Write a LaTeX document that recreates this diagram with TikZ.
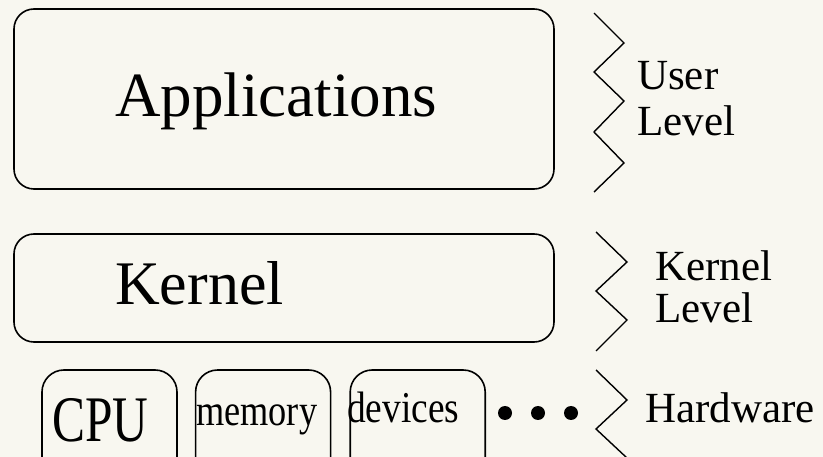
\documentclass[tikz,border=0pt]{standalone}
\usepackage{fontspec}
\usepackage{graphicx}
\setmainfont{Liberation Serif}
\usetikzlibrary{positioning}
\definecolor{paper}{RGB}{248,247,240}
\begin{document}
\begin{tikzpicture}[x=1pt,y=-1pt]
	\tikzset{lay/.style={draw,line width=1.6pt,rounded corners=20pt,inner sep=0pt},
		hw/.style={lay,rounded corners=22pt,minimum width=135pt,minimum height=110pt},
		txt/.style={anchor=base west,inner sep=0pt},
		lbl/.style={txt,align=left,font=\fontsize{43}{46}\selectfont},
		zig/.style={line width=1.4pt,line join=miter}}
	\clip(0,0)rectangle(823,457);
	\fill[paper](0,0)rectangle(823,457);
	%% layers
	\node[lay,minimum width=540pt,minimum height=180pt](app)at(284,99){};
	\node[lay,minimum width=540pt,minimum height=108pt](kern)at(284,288){};
	\node[hw](cpu)at(109.5,425){};
	\node[hw,right=17pt of cpu](mem){};
	\node[hw,right=18pt of mem](dev){};
	\node[txt,font=\fontsize{63}{70}\selectfont](apptxt)at(115,117){Applications};
	\node[txt,font=\fontsize{62}{70}\selectfont](kerntxt)at(115,305){Kernel};
	\node[txt,font=\fontsize{65}{70}\selectfont](cputxt)at(52,442){\scalebox{0.76}[1]{CPU}};
	\node[txt,font=\fontsize{44}{50}\selectfont](memtxt)at(196,425){\scalebox{0.825}[1]{memory}};
	\node[txt,font=\fontsize{44}{50}\selectfont](devtxt)at(347,423){\scalebox{0.85}[1]{devices}};
	\foreach \x in {505,538,571}
	\fill(\x,413)circle(7pt);
	%% zigzags
	\draw[zig](594,13)--(624,43)--(594,72)--(624,101)--(594,132)--(624,163)--(594,192);
	\draw[zig](596,232)--(627,262)--(596,291)--(627,320)--(596,351);
	\draw[zig](596,370)--(627,400)--(596,429)--(627,458)--(596,487);
	%% levels (base = last line)
	\node[lbl](user)at(637,136){User\\Level};
	\node[lbl,font=\fontsize{43}{42}\selectfont](klevel)at(655,323){Kernel\\Level};
	\node[lbl](hwlevel)at(645,423){Hardware};
\end{tikzpicture}
\end{document}
